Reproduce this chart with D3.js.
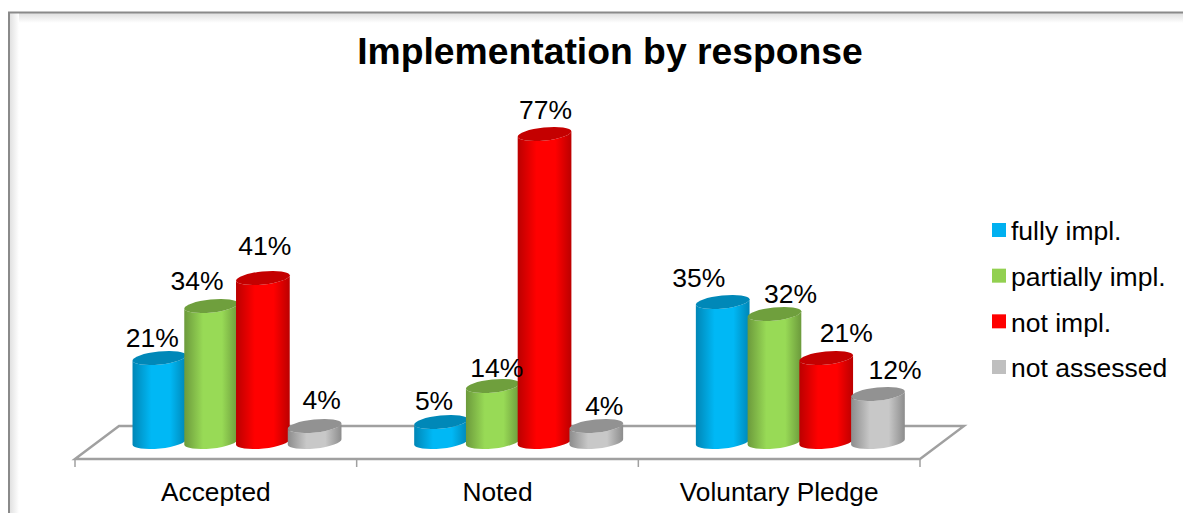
<!DOCTYPE html>
<html>
<head>
<meta charset="utf-8">
<script src="https://d3js.org/d3.v7.min.js"></script>
<style>
  html, body { margin: 0; padding: 0; background: #fff; overflow: hidden; }
  text { font-family: "Liberation Sans", Arial, sans-serif; fill: #000; }
</style>
</head>
<body>
<div id="chart"></div>
<script>
var width = 1183
var height = 513

var categories = ['Accepted', 'Noted', 'Voluntary Pledge'];
var seriesNames = ['fully impl.', 'partially impl.', 'not impl.', 'not assessed'];

var fullyImpl = [21, 5, 35];
var partiallyImpl = [34, 14, 32];
var notImpl = [41, 77, 21];
var notAssessed = [4, 4, 12];
var seriesValues = [fullyImpl, partiallyImpl, notImpl, notAssessed];

// side colour, dark edge, top cap
var seriesColors = [
  { main: '#00b8f5', edge: '#0086b6', top: '#0088b8', key: '#00b0f0' },
  { main: '#98da56', edge: '#6c9a3c', top: '#6f9f3d', key: '#92d050' },
  { main: '#ff0000', edge: '#bb0000', top: '#c40000', key: '#ff0000' },
  { main: '#c8c8c8', edge: '#8c8c8c', top: '#929292', key: '#bfbfbf' }
];

// hand placed data labels in the original, [dx from bar centre, dy from cap]
var labelNudge = [
  [[-7, -20], [-7, -21], [-24, -24]],
  [[-14, -25], [4, -18], [16, -20]],
  [[2, -32], [1, -24], [20, -25]],
  [[7, -26], [8, -20], [17, -24]]
];

var floor = { front: 459, back: 426, skew: 44 };
var rx = 27, ry = 6.5, tilt = -6;

var svg = d3.select('#chart')
            .append('svg')
            .attr('width', width)
            .attr('height', height)
            .style('display', 'block');

var defs = svg.append('defs');

var x0 = d3.scaleBand().domain(categories).range([75, 920]);
var x1 = d3.scaleBand().domain(d3.range(4)).range([58, 265]);
var y = d3.scaleLinear().domain([0, 77]).range([442, 134]);

/////////////////////////////////// FRAME /////////////////////////////////////////////
var fadeTop = defs.append('linearGradient').attr('id', 'fadeTop')
    .attr('x1', 0).attr('y1', 0).attr('x2', 0).attr('y2', 1);
var fadeLeft = defs.append('linearGradient').attr('id', 'fadeLeft');
[fadeTop, fadeLeft].forEach(function (g) {
  g.append('stop').attr('offset', 0).attr('stop-color', '#dedede');
  g.append('stop').attr('offset', 1).attr('stop-color', '#ffffff');
});

svg.append('rect').attr('x', 9).attr('y', 13).attr('width', width - 9).attr('height', 10).attr('fill', 'url(#fadeTop)');
svg.append('rect').attr('x', 9).attr('y', 13).attr('width', 10).attr('height', height - 13).attr('fill', 'url(#fadeLeft)');
svg.append('path')
   .attr('d', 'M9,' + height + 'V12.5H' + width)
   .attr('fill', 'none')
   .attr('stroke', '#8a8a8a')
   .attr('stroke-width', 2);

svg.append('text')
   .attr('x', 610)
   .attr('y', 64)
   .attr('text-anchor', 'middle')
   .attr('font-size', 37.3)
   .attr('font-weight', 'bold')
   .text('Implementation by response');

/////////////////////////////////// FLOOR /////////////////////////////////////////////
var xLeft = x0.range()[0], xRight = x0.range()[1];

svg.append('path')
   .attr('d', 'M' + xLeft + ',' + floor.front +
              'L' + (xLeft + floor.skew) + ',' + floor.back +
              'H' + (xRight + floor.skew) +
              'L' + xRight + ',' + floor.front + 'Z')
   .attr('fill', '#fff')
   .attr('stroke', '#a0a0a0')
   .attr('stroke-width', 2.4);

var axis = d3.axisBottom(x0).tickSize(0).tickPadding(23);
var axisG = svg.append('g')
   .attr('transform', 'translate(0,' + floor.front + ')')
   .call(axis);
axisG.select('.domain').remove();
axisG.selectAll('text')
     .attr('font-size', 26.3)
     .attr('font-family', '"Liberation Sans", Arial, sans-serif');

var tickXs = categories.map(function (c) { return x0(c); }).concat([xRight]);
svg.selectAll('line.tick-mark')
   .data(tickXs)
   .enter().append('line')
   .attr('class', 'tick-mark')
   .attr('x1', function (d) { return d; })
   .attr('x2', function (d) { return d; })
   .attr('y1', floor.front)
   .attr('y2', floor.front + 8)
   .attr('stroke', '#a0a0a0')
   .attr('stroke-width', 1.5);

/////////////////////////////////// CYLINDERS /////////////////////////////////////////
seriesColors.forEach(function (c, i) {
  var g = defs.append('linearGradient').attr('id', 'side' + i);
  g.append('stop').attr('offset', 0).attr('stop-color', c.edge);
  g.append('stop').attr('offset', 0.35).attr('stop-color', c.main);
  g.append('stop').attr('offset', 0.7).attr('stop-color', c.main);
  g.append('stop').attr('offset', 1).attr('stop-color', c.edge);
});

var dx = rx * Math.cos(tilt * Math.PI / 180);
var dy = rx * Math.sin(tilt * Math.PI / 180);

function sidePath(cx, topY, baseY) {
  var arc = 'A' + rx + ',' + ry + ' ' + tilt + ' 0 ';
  return 'M' + (cx - dx) + ',' + (topY - dy) +
         'L' + (cx - dx) + ',' + (baseY - dy) +
         arc + '0 ' + (cx + dx) + ',' + (baseY + dy) +
         'L' + (cx + dx) + ',' + (topY + dy) +
         arc + '1 ' + (cx - dx) + ',' + (topY - dy) + 'Z';
}

categories.forEach(function (cat, ci) {
  var groupG = svg.append('g').attr('class', 'group');
  seriesValues.forEach(function (vals, si) {
    var cx = x0(cat) + x1(si) + x1.bandwidth() / 2 + 0.5;
    var v = vals[ci];
    groupG.append('path')
          .attr('d', sidePath(cx, y(v), y(0)))
          .attr('fill', 'url(#side' + si + ')');
    groupG.append('ellipse')
          .attr('cx', 0).attr('cy', 0)
          .attr('rx', rx).attr('ry', ry)
          .attr('transform', 'translate(' + cx + ',' + y(v) + ') rotate(' + tilt + ')')
          .attr('fill', seriesColors[si].top);
  });
});

// labels go last, the 14% one sits over the red bar
categories.forEach(function (cat, ci) {
  seriesValues.forEach(function (vals, si) {
    var cx = x0(cat) + x1(si) + x1.bandwidth() / 2 + 0.5;
    var nudge = labelNudge[si][ci];
    svg.append('text')
       .attr('x', cx + nudge[0])
       .attr('y', y(vals[ci]) + nudge[1])
       .attr('dy', '0.35em')
       .attr('text-anchor', 'middle')
       .attr('font-size', 26.5)
       .text(vals[ci] + '%');
  });
});

/////////////////////////////////// LEGEND ////////////////////////////////////////////
var legendY = d3.scalePoint().domain(seriesNames).range([231, 368]);

var legend = svg.selectAll('g.legend')
    .data(seriesNames)
    .enter().append('g')
    .attr('class', 'legend')
    .attr('transform', function (d) { return 'translate(992,' + legendY(d) + ')'; });

legend.append('rect')
      .attr('x', 0).attr('y', -8)
      .attr('width', 14).attr('height', 14)
      .attr('fill', function (d, i) { return seriesColors[i].key; });

legend.append('text')
      .attr('x', 19)
      .attr('y', 0)
      .attr('dy', '0.35em')
      .attr('font-size', 26.5)
      .text(function (d) { return d; });
</script>
</body>
</html>
